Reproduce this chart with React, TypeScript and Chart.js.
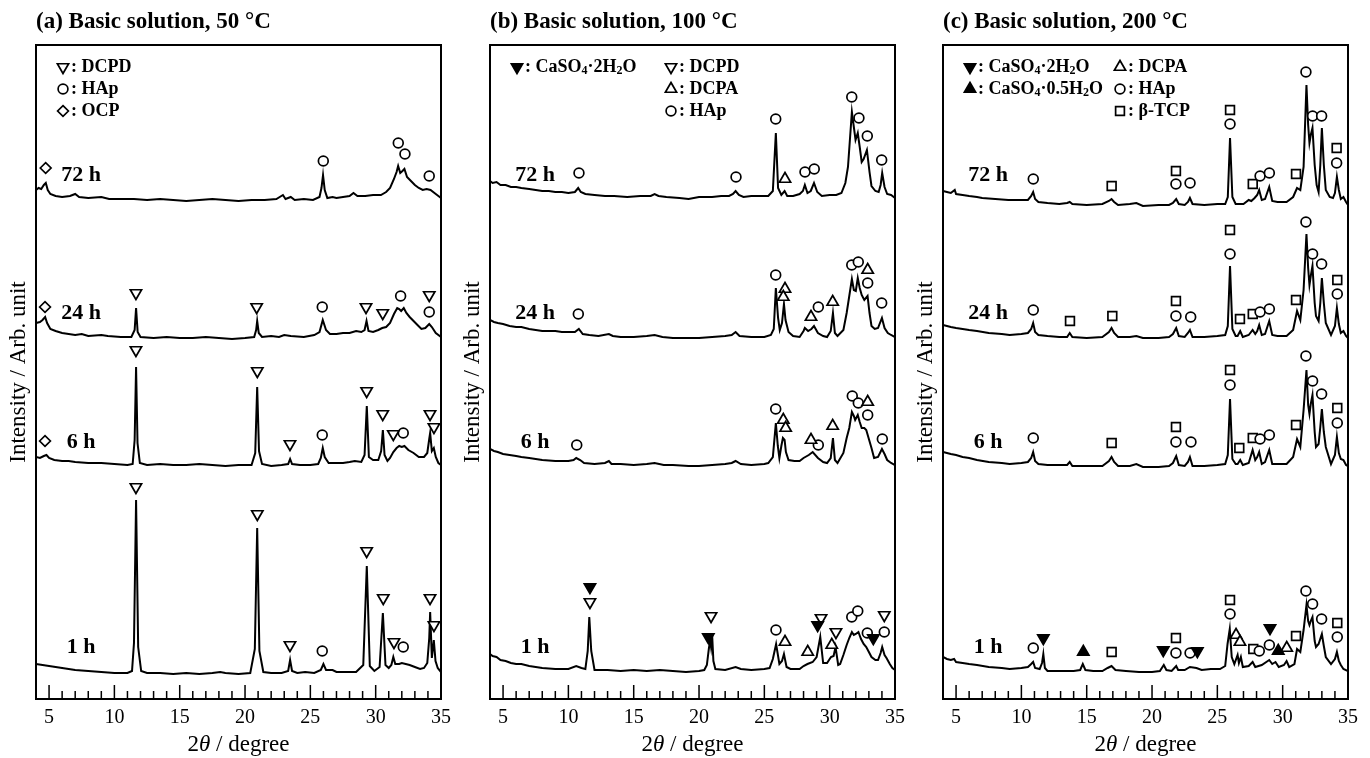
import React, { useEffect, useRef } from 'react';
import { Chart, registerables } from 'chart.js';
Chart.register(...registerables);

type P = [number, number];
type Part = [string, number];

const SERIF = "'Liberation Serif', 'Times New Roman', serif";

// ---------- shared axis data ----------
const xMin = 4;
const xMax = 35;
const yMax = 654;
const majorTicks = [5, 10, 15, 20, 25, 30, 35];
const minorTicks = [6, 7, 8, 9, 11, 12, 13, 14, 16, 17, 18, 19, 21, 22, 23, 24, 26, 27, 28, 29, 31, 32, 33, 34];
const timeLabels = ['72 h', '24 h', '6 h', '1 h'];
const timeLabelTheta = 7.45;

// ---------- panel (a) 50 °C ----------
const a72: P[] = [[4.0,10],[4.2,12],[4.4,11],[4.6,15],[4.75,17],[4.9,10],[5.1,6],[5.5,4],[6.0,3],[6.6,4],[7.0,6],[7.3,3],[8.0,2],[9.0,3],[9.6,1],[10.5,1],[11.5,1],[12.5,0],[13.5,1],[14.5,0],[15.5,-1],[16.5,0],[17.5,1],[18.5,0],[19.5,-1],[20.5,0],[21.5,0],[22.4,1],[22.9,5],[23.1,1],[23.5,3],[23.8,0],[24.5,1],[25.2,0],[25.7,3],[25.85,12],[25.97,25],[26.1,10],[26.3,2],[26.7,3],[27.0,2],[27.5,3],[28.0,4],[28.3,7],[28.6,4],[29.2,4],[29.8,5],[30.4,5],[30.8,8],[31.1,12],[31.4,21],[31.6,28],[31.72,34],[31.88,27],[32.05,29],[32.2,31],[32.4,23],[32.7,19],[33.0,15],[33.3,12],[33.6,10],[33.9,11],[34.2,10],[34.5,7],[34.8,4],[35.0,2]];
const a24: P[] = [[4.0,15],[4.3,16],[4.5,18],[4.7,21],[4.85,15],[5.1,9],[5.5,7],[6.0,5],[7.0,3],[7.5,4],[8.0,2],[9.0,3],[9.5,2],[10.5,1],[11.3,1],[11.55,8],[11.66,30],[11.78,6],[12.0,1],[13.0,0],[14.0,1],[15.0,0],[16.0,0],[17.0,1],[18.0,0],[19.0,-1],[20.0,0],[20.7,1],[20.85,8],[20.93,17],[21.05,5],[21.3,1],[22.0,2],[22.6,1],[23.0,3],[23.5,2],[24.5,1],[25.3,3],[25.7,6],[25.95,18],[26.2,8],[26.5,4],[27.0,4],[27.5,5],[28.0,5],[28.5,7],[28.9,6],[29.15,8],[29.3,17],[29.45,7],[29.8,6],[30.2,8],[30.5,10],[30.8,11],[31.1,15],[31.4,24],[31.65,30],[31.8,29],[31.95,27],[32.15,30],[32.35,25],[32.6,21],[32.9,17],[33.2,13],[33.5,9],[33.8,10],[34.1,14],[34.3,11],[34.6,5],[35.0,1]];
const a6: P[] = [[4.0,8],[4.3,7],[4.6,9],[4.8,10],[5.0,7],[5.4,5],[6.0,4],[6.5,4],[7.0,3],[8.0,2],[9.0,2],[10.0,1],[11.0,0],[11.4,1],[11.55,25],[11.66,98],[11.77,22],[11.95,2],[12.5,0],[13.5,1],[14.5,0],[15.5,0],[16.5,1],[17.5,0],[18.5,-1],[19.5,0],[20.5,0],[20.78,12],[20.93,78],[21.07,14],[21.3,1],[22.0,-1],[22.8,0],[23.3,1],[23.45,6],[23.6,1],[24.2,0],[25.0,0],[25.6,1],[25.8,7],[25.95,17],[26.1,8],[26.4,2],[27.0,2],[27.5,2],[28.0,3],[28.4,4],[28.9,3],[29.15,10],[29.32,59],[29.48,8],[29.8,5],[30.2,5],[30.42,14],[30.55,35],[30.68,10],[30.9,4],[31.1,7],[31.35,13],[31.6,17],[31.8,19],[32.0,18],[32.2,19],[32.5,15],[32.9,12],[33.3,8],[33.7,8],[33.95,12],[34.1,26],[34.17,32],[34.3,14],[34.45,17],[34.6,8],[34.8,2],[35.0,0]];
const a1: P[] = [[4.0,9],[4.5,8],[5.0,7],[5.5,6],[6.0,5],[7.0,3],[8.0,2],[9.0,1],[10.0,0],[11.0,0],[11.35,2],[11.5,30],[11.66,173],[11.82,26],[12.05,2],[12.5,0],[13.5,0],[14.5,-1],[15.5,0],[16.5,-1],[17.5,0],[18.1,1],[18.5,0],[19.5,-1],[20.4,0],[20.75,24],[20.93,145],[21.1,22],[21.4,1],[22.0,0],[22.8,0],[23.3,2],[23.45,13],[23.6,2],[24.0,0],[24.6,1],[25.3,0],[25.8,3],[26.0,9],[26.2,3],[26.7,3],[27.0,1],[27.8,1],[28.5,1],[29.05,8],[29.32,107],[29.55,7],[29.9,2],[30.3,6],[30.55,60],[30.75,8],[31.0,5],[31.2,8],[31.35,16],[31.5,9],[31.8,9],[32.0,10],[32.3,9],[32.6,8],[33.0,6],[33.4,4],[33.7,5],[33.95,10],[34.1,35],[34.17,61],[34.3,15],[34.45,33],[34.58,12],[34.75,5],[35.0,1]];
const aOffsets = [499, 361, 234, 26];
const aLabelY = [524, 386, 257, 52];
const aDCPD: P[] = [[11.65,406],[20.89,392],[29.26,392],[30.54,386],[34.1,404],[11.65,349],[20.94,328],[23.44,255],[29.31,308],[30.54,285],[31.35,265],[34.16,285],[34.46,272],[11.65,212],[20.94,185],[23.44,54],[29.31,148],[30.58,101],[31.4,57],[34.16,101],[34.46,74]];
const aHAp: P[] = [[25.99,538],[31.73,556],[32.24,545],[34.1,523],[25.91,392],[31.91,403],[34.1,387],[25.91,264],[32.11,266],[25.91,48],[32.11,52]];
const aOCP: P[] = [[4.74,531],[4.69,392],[4.69,258]];

// ---------- panel (b) 100 °C ----------
const b72: P[] = [[4.0,16],[4.2,14],[4.5,15],[4.8,12],[5.2,12],[5.6,10],[6.0,10],[6.4,9],[7.0,8],[7.5,7],[8.0,6],[8.5,6],[9.0,5],[9.5,5],[10.0,4],[10.5,5],[10.75,9],[10.95,5],[11.3,3],[12.0,2],[12.8,1],[13.5,1],[14.5,0],[15.5,1],[16.3,1],[16.6,3],[16.9,1],[17.5,0],[18.5,-1],[19.2,-2],[20.0,0],[21.0,0],[21.7,1],[22.3,1],[22.6,3],[22.8,6],[23.05,2],[23.4,0],[24.0,1],[24.8,1],[25.3,1],[25.65,6],[25.88,64],[26.05,9],[26.3,2],[26.55,6],[26.75,1],[27.2,1],[27.7,3],[27.95,6],[28.1,12],[28.3,4],[28.55,6],[28.8,14],[29.05,5],[29.4,1],[30.0,2],[30.5,2],[30.9,4],[31.2,14],[31.4,30],[31.7,85],[31.85,70],[31.98,57],[32.15,64],[32.3,50],[32.45,35],[32.6,38],[32.85,47],[33.05,25],[33.2,11],[33.5,6],[33.75,5],[33.9,12],[34.02,24],[34.2,10],[34.4,3],[34.7,2],[35.0,-1]];
const b24: P[] = [[4.0,18],[4.3,16],[4.6,15],[5.0,14],[5.5,12],[6.0,11],[6.4,11],[7.0,9],[7.5,8],[8.0,7],[9.0,7],[9.5,6],[10.0,6],[10.5,6],[10.8,9],[11.1,4],[11.6,3],[12.3,2],[13.1,4],[13.4,2],[14.0,1],[15.0,1],[16.0,2],[16.6,3],[17.2,1],[18.0,0],[19.2,0],[20.0,0],[21.0,1],[22.0,2],[22.5,3],[22.8,6],[23.1,2],[24.0,1],[25.0,1],[25.5,3],[25.72,9],[25.88,50],[26.05,20],[26.18,8],[26.35,15],[26.5,34],[26.62,18],[26.85,6],[27.2,2],[27.7,1],[28.0,7],[28.1,10],[28.35,7],[28.6,9],[28.8,12],[29.1,5],[29.5,2],[29.8,1],[30.08,7],[30.25,25],[30.4,5],[30.6,2],[31.05,8],[31.3,25],[31.5,42],[31.7,59],[31.85,48],[32.0,47],[32.15,60],[32.3,50],[32.45,43],[32.65,38],[32.9,42],[33.05,25],[33.2,12],[33.45,9],[33.7,10],[34.0,20],[34.2,10],[34.45,5],[34.7,3],[35.0,1]];
const b6: P[] = [[4.0,17],[4.3,15],[4.6,14],[5.0,12],[5.5,11],[6.0,10],[6.4,9],[7.0,8],[7.5,7],[8.0,6],[9.0,5],[9.5,5],[10.0,5],[10.4,6],[10.6,8],[10.9,6],[11.2,3],[12.0,2],[12.8,3],[13.1,5],[13.3,2],[14.0,2],[15.0,1],[16.0,2],[16.6,3],[17.3,1],[18.0,1],[19.2,0],[20.0,0],[21.0,1],[22.0,2],[22.5,3],[22.8,5],[23.2,2],[24.0,1],[25.0,2],[25.3,3],[25.65,9],[25.88,43],[26.03,20],[26.15,8],[26.3,20],[26.42,28],[26.55,26],[26.65,14],[26.85,6],[27.3,5],[27.7,5],[28.0,8],[28.4,11],[28.7,14],[29.1,8],[29.5,4],[29.8,3],[30.08,8],[30.25,28],[30.4,6],[30.6,3],[31.05,13],[31.3,28],[31.5,38],[31.7,54],[31.85,50],[31.95,46],[32.15,51],[32.3,44],[32.45,38],[32.65,38],[32.8,36],[33.0,27],[33.2,18],[33.4,8],[33.7,9],[34.0,17],[34.2,12],[34.4,6],[34.7,3],[35.0,1]];
const b1: P[] = [[4.0,17],[4.2,15],[4.5,14],[4.8,11],[5.2,10],[5.4,9],[5.6,8],[6.0,7],[6.4,7],[7.0,5],[7.5,4],[8.0,3],[9.0,2],[10.0,2],[10.6,5],[11.0,3],[11.3,2],[11.48,20],[11.6,54],[11.75,20],[12.0,1],[13.0,1],[14.0,0],[15.0,1],[16.0,0],[17.0,1],[18.0,0],[19.0,-1],[20.0,0],[20.4,1],[20.6,6],[20.75,22],[20.85,31],[20.92,24],[21.0,37],[21.1,10],[21.25,2],[22.0,1],[22.8,4],[23.2,2],[24.0,1],[25.0,2],[25.4,3],[25.65,12],[25.9,27],[26.15,7],[26.35,10],[26.5,17],[26.7,4],[27.0,2],[27.7,2],[28.0,5],[28.3,7],[28.7,9],[29.0,14],[29.28,34],[29.5,8],[29.8,8],[30.1,14],[30.3,15],[30.45,24],[30.65,6],[30.8,7],[31.05,16],[31.3,26],[31.5,33],[31.7,39],[31.85,36],[32.0,37],[32.2,39],[32.4,32],[32.6,27],[32.8,24],[33.0,19],[33.2,14],[33.5,11],[33.7,11],[33.9,18],[34.02,24],[34.2,16],[34.35,13],[34.6,7],[34.8,3],[35.0,1]];
const bOffsets = [502, 361, 233, 28];
const bLabelY = [524, 386, 257, 52];
const bGyp: P[] = [[11.65,112],[20.71,62],[29.08,74],[33.34,61]];
const bDCPD: P[] = [[11.65,97],[20.92,83],[29.34,81],[30.48,67],[34.18,84]];
const bDCPA: P[] = [[26.58,520],[26.58,410],[26.45,402],[28.57,382],[30.23,397],[32.91,429],[26.45,279],[26.63,271],[28.57,259],[30.23,273],[32.91,297],[26.58,57],[28.32,47],[30.16,54]];
const bHAp: P[] = [[10.81,526],[22.83,522],[25.87,580],[28.11,527],[28.82,530],[31.69,602],[32.24,581],[32.88,563],[33.98,539],[10.76,385],[25.87,424],[29.13,392],[31.69,434],[32.19,437],[32.91,416],[33.98,396],[10.64,254],[25.87,290],[29.13,254],[31.73,303],[32.19,296],[32.91,284],[34.03,260],[25.89,69],[31.69,82],[32.15,88],[32.88,66],[34.18,67]];

// ---------- panel (c) 200 °C ----------
const c72: P[] = [[4.0,14],[4.3,13],[4.6,12],[4.9,15],[5.0,11],[5.5,10],[6.0,9],[6.6,8],[7.0,7],[8.0,6],[9.0,5],[10.0,5],[10.5,5],[10.75,9],[10.9,13],[11.05,6],[11.3,3],[12.0,2],[12.9,1],[13.5,2],[13.7,3],[13.9,1],[15.0,0],[16.2,1],[16.7,4],[16.9,6],[17.1,3],[17.4,0],[18.3,1],[18.8,2],[19.3,-1],[20.5,0],[21.3,0],[21.6,2],[21.85,6],[22.05,1],[22.5,0],[22.75,3],[22.9,7],[23.1,1],[24.0,0],[25.0,1],[25.6,1],[25.8,8],[25.97,67],[26.15,8],[26.4,1],[27.0,1],[27.4,5],[27.6,4],[27.85,7],[28.05,10],[28.2,15],[28.4,5],[28.65,6],[28.97,18],[29.2,4],[29.6,3],[30.3,3],[30.8,8],[31.1,17],[31.35,15],[31.6,38],[31.82,120],[31.95,80],[32.05,62],[32.15,70],[32.28,77],[32.45,40],[32.6,20],[32.75,13],[32.88,40],[33.0,77],[33.15,40],[33.3,15],[33.6,8],[33.85,7],[34.0,12],[34.15,28],[34.3,15],[34.45,6],[34.65,8],[34.85,3],[35.0,0]];
const c24: P[] = [[4.0,13],[4.3,12],[4.6,11],[5.0,10],[5.5,9],[6.0,8],[6.6,7],[7.5,5],[8.5,4],[9.1,3],[10.0,4],[10.5,5],[10.75,9],[10.9,15],[11.05,6],[11.3,3],[12.0,2],[12.9,1],[13.5,1],[13.7,5],[13.9,1],[15.0,0],[16.2,1],[16.7,6],[16.9,10],[17.1,5],[17.4,1],[18.3,1],[18.8,2],[19.3,0],[20.5,0],[21.3,1],[21.6,4],[21.85,10],[22.05,2],[22.5,1],[22.75,5],[22.9,8],[23.1,1],[24.0,1],[25.0,2],[25.6,3],[25.8,12],[25.97,72],[26.15,9],[26.4,2],[26.55,2],[26.75,7],[26.95,1],[27.4,3],[27.7,8],[27.9,4],[28.05,7],[28.2,13],[28.4,3],[28.65,4],[28.97,17],[29.2,3],[29.6,2],[30.3,2],[30.8,8],[31.1,27],[31.35,18],[31.6,48],[31.82,104],[31.95,70],[32.05,53],[32.15,62],[32.28,72],[32.45,35],[32.55,22],[32.75,17],[32.88,35],[33.0,60],[33.15,35],[33.3,15],[33.7,3],[34.0,12],[34.15,30],[34.3,14],[34.45,5],[34.65,7],[34.85,2],[35.0,0]];
const c6: P[] = [[4.0,15],[4.3,14],[4.6,13],[5.0,12],[5.5,10],[6.0,9],[6.6,7],[7.5,5],[8.5,4],[9.1,3],[10.0,4],[10.5,5],[10.75,9],[10.9,15],[11.05,6],[11.3,3],[12.0,2],[12.9,2],[13.5,2],[13.7,5],[13.9,1],[15.0,1],[16.2,1],[16.7,6],[16.9,10],[17.1,5],[17.4,1],[18.3,1],[18.8,3],[19.3,0],[20.5,0],[21.3,1],[21.6,4],[21.85,11],[22.05,2],[22.5,1],[22.75,5],[22.9,10],[23.1,1],[24.0,1],[25.0,2],[25.6,3],[25.8,12],[25.97,68],[26.15,8],[26.4,3],[26.55,3],[26.75,7],[26.95,2],[27.4,4],[27.7,17],[27.9,7],[28.05,10],[28.2,15],[28.4,3],[28.65,5],[28.97,17],[29.2,3],[29.6,3],[30.3,3],[30.8,10],[31.1,28],[31.35,20],[31.6,57],[31.82,97],[31.95,62],[32.05,53],[32.15,63],[32.28,72],[32.45,35],[32.55,20],[32.75,23],[32.88,40],[33.0,58],[33.15,35],[33.3,20],[33.7,3],[34.0,12],[34.15,30],[34.3,14],[34.45,8],[34.65,7],[34.85,2],[35.0,1]];
const c1: P[] = [[4.0,14],[4.3,12],[4.6,11],[4.85,12],[5.0,9],[5.5,8],[6.0,7],[6.6,6],[7.5,4],[8.5,3],[9.1,2],[10.0,3],[10.5,4],[10.75,7],[10.9,9],[11.05,3],[11.4,2],[11.58,8],[11.68,17],[11.8,3],[12.0,0],[13.0,0],[14.0,0],[14.5,1],[14.7,7],[14.9,1],[15.5,0],[16.2,0],[16.6,3],[16.9,5],[17.2,1],[18.0,0],[19.0,-1],[20.0,-1],[20.6,0],[20.9,6],[21.1,1],[21.5,0],[21.85,5],[22.0,1],[22.5,1],[22.9,4],[23.4,3],[23.8,1],[24.5,2],[25.2,2],[25.6,5],[25.78,27],[25.95,42],[26.1,14],[26.3,7],[26.55,16],[26.65,8],[26.8,14],[26.95,4],[27.4,5],[27.7,9],[27.9,4],[28.4,6],[28.97,11],[29.2,7],[29.45,9],[29.7,4],[30.1,6],[30.3,10],[30.5,4],[30.9,7],[31.1,22],[31.35,19],[31.6,41],[31.82,66],[31.95,50],[32.05,46],[32.15,50],[32.28,54],[32.45,30],[32.55,24],[32.75,27],[33.0,37],[33.15,25],[33.3,14],[33.7,7],[34.0,12],[34.15,19],[34.3,10],[34.45,6],[34.65,2],[35.0,0]];
const cOffsets = [494, 361, 232, 28];
const cLabelY = [524, 386, 257, 52];
const cGyp: P[] = [[11.68,61],[20.86,49],[23.47,48],[29.03,71]];
const cHemi: P[] = [[14.74,47],[29.66,48]];
const cDCPA: P[] = [[26.43,64],[26.73,57],[30.31,51]];
const cHAp: P[] = [[10.91,520],[21.83,515],[22.91,516],[25.97,575],[28.27,523],[28.98,526],[31.78,627],[32.29,583],[32.98,583],[34.13,536],[10.91,389],[21.83,383],[22.96,382],[25.97,445],[28.27,387],[28.98,390],[31.78,477],[32.29,445],[32.98,435],[34.18,405],[10.91,261],[21.83,257],[22.98,257],[25.97,314],[28.27,260],[28.98,264],[31.78,343],[32.29,318],[32.98,305],[34.18,276],[10.91,51],[21.83,46],[22.91,46],[25.97,85],[28.21,48],[28.98,54],[31.78,108],[32.29,95],[32.98,80],[34.18,62]];
const cTCP: P[] = [[16.91,513],[21.83,528],[25.97,589],[27.71,515],[31.02,525],[34.13,551],[13.72,378],[16.96,383],[21.83,398],[25.97,469],[26.73,380],[27.71,385],[31.02,399],[34.18,419],[16.91,256],[21.83,272],[25.97,329],[26.68,251],[27.71,261],[31.02,274],[34.18,291],[16.91,47],[21.83,61],[25.97,99],[27.75,50],[31.02,63],[34.18,76]];

// ---------- marker styles ----------
const KIND: Record<string, { pointStyle: string; rotation: number; fill: string; radius: number }> = {
  dcpd: { pointStyle: 'triangle', rotation: 180, fill: '#fff', radius: 6.5 },
  gyp: { pointStyle: 'triangle', rotation: 180, fill: '#000', radius: 6.5 },
  hemi: { pointStyle: 'triangle', rotation: 0, fill: '#000', radius: 6.5 },
  dcpa: { pointStyle: 'triangle', rotation: 0, fill: '#fff', radius: 6.5 },
  hap: { pointStyle: 'circle', rotation: 0, fill: '#fff', radius: 4.9 },
  ocp: { pointStyle: 'rectRot', rotation: 0, fill: '#fff', radius: 5.4 },
  tcp: { pointStyle: 'rect', rotation: 0, fill: '#fff', radius: 6.2 },
};

type LegendItem = { kind: string; col: number; row: number; parts: Part[] };
type Panel = {
  title: string;
  left: number;
  patterns: P[][];
  offsets: number[];
  labelY: number[];
  markers: { kind: string; pts: P[] }[];
  legendCols: number[];
  legend: LegendItem[];
};

const panels: Panel[] = [
  {
    title: '(a) Basic solution, 50 °C',
    left: 0,
    patterns: [a72, a24, a6, a1],
    offsets: aOffsets,
    labelY: aLabelY,
    markers: [{ kind: 'dcpd', pts: aDCPD }, { kind: 'hap', pts: aHAp }, { kind: 'ocp', pts: aOCP }],
    legendCols: [27],
    legend: [
      { kind: 'dcpd', col: 0, row: 0, parts: [[': DCPD', 0]] },
      { kind: 'hap', col: 0, row: 1, parts: [[': HAp', 0]] },
      { kind: 'ocp', col: 0, row: 2, parts: [[': OCP', 0]] },
    ],
  },
  {
    title: '(b) Basic solution, 100 °C',
    left: 454,
    patterns: [b72, b24, b6, b1],
    offsets: bOffsets,
    labelY: bLabelY,
    markers: [{ kind: 'gyp', pts: bGyp }, { kind: 'dcpd', pts: bDCPD }, { kind: 'dcpa', pts: bDCPA }, { kind: 'hap', pts: bHAp }],
    legendCols: [27, 181],
    legend: [
      { kind: 'gyp', col: 0, row: 0, parts: [[': CaSO', 0], ['4', 1], ['·2H', 0], ['2', 1], ['O', 0]] },
      { kind: 'dcpd', col: 1, row: 0, parts: [[': DCPD', 0]] },
      { kind: 'dcpa', col: 1, row: 1, parts: [[': DCPA', 0]] },
      { kind: 'hap', col: 1, row: 2, parts: [[': HAp', 0]] },
    ],
  },
  {
    title: '(c) Basic solution, 200 °C',
    left: 907,
    patterns: [c72, c24, c6, c1],
    offsets: cOffsets,
    labelY: cLabelY,
    markers: [{ kind: 'gyp', pts: cGyp }, { kind: 'hemi', pts: cHemi }, { kind: 'dcpa', pts: cDCPA }, { kind: 'hap', pts: cHAp }, { kind: 'tcp', pts: cTCP }],
    legendCols: [27, 177],
    legend: [
      { kind: 'gyp', col: 0, row: 0, parts: [[': CaSO', 0], ['4', 1], ['·2H', 0], ['2', 1], ['O', 0]] },
      { kind: 'hemi', col: 0, row: 1, parts: [[': CaSO', 0], ['4', 1], ['·0.5H', 0], ['2', 1], ['O', 0]] },
      { kind: 'dcpa', col: 1, row: 0, parts: [[': DCPA', 0]] },
      { kind: 'hap', col: 1, row: 1, parts: [[': HAp', 0]] },
      { kind: 'tcp', col: 1, row: 2, parts: [[': β-TCP', 0]] },
    ],
  },
];

function drawSym(ctx: CanvasRenderingContext2D, kind: string, x: number, y: number) {
  const k = KIND[kind];
  const r = k.radius;
  ctx.save();
  ctx.lineWidth = 1.7;
  ctx.strokeStyle = '#000';
  ctx.fillStyle = k.fill;
  ctx.beginPath();
  if (k.pointStyle === 'circle') {
    ctx.arc(x, y, r, 0, Math.PI * 2);
  } else if (k.pointStyle === 'triangle') {
    let a = (k.rotation * Math.PI) / 180;
    for (let i = 0; i < 3; i++) {
      const px = x + Math.sin(a) * r;
      const py = y - Math.cos(a) * r;
      if (i === 0) ctx.moveTo(px, py);
      else ctx.lineTo(px, py);
      a += (2 * Math.PI) / 3;
    }
    ctx.closePath();
  } else if (k.pointStyle === 'rect') {
    const s = r * Math.SQRT1_2;
    ctx.rect(x - s, y - s, 2 * s, 2 * s);
  } else {
    ctx.moveTo(x, y - r);
    ctx.lineTo(x + r, y);
    ctx.lineTo(x, y + r);
    ctx.lineTo(x - r, y);
    ctx.closePath();
  }
  ctx.fill();
  ctx.stroke();
  ctx.restore();
}

function drawRich(ctx: CanvasRenderingContext2D, parts: Part[], x: number, y: number) {
  let cx = x;
  for (const [t, sub] of parts) {
    ctx.font = sub ? `bold 12px ${SERIF}` : `bold 18px ${SERIF}`;
    ctx.fillText(t, cx, sub ? y + 4 : y);
    cx += ctx.measureText(t).width;
  }
}

function makeDecor(panel: Panel) {
  return {
    id: 'decor',
    afterDraw(chart: any) {
      const { ctx, chartArea: ca } = chart;
      const xs = chart.scales.x;
      const ys = chart.scales.y;
      ctx.save();
      // frame
      ctx.strokeStyle = '#000';
      ctx.lineWidth = 2;
      ctx.strokeRect(ca.left, ca.top, ca.right - ca.left, ca.bottom - ca.top);
      // inward ticks
      ctx.lineWidth = 1.5;
      ctx.beginPath();
      majorTicks.forEach((v) => {
        const px = xs.getPixelForValue(v);
        ctx.moveTo(px, ca.bottom);
        ctx.lineTo(px, ca.bottom - 14);
      });
      minorTicks.forEach((v) => {
        const px = xs.getPixelForValue(v);
        ctx.moveTo(px, ca.bottom);
        ctx.lineTo(px, ca.bottom - 8);
      });
      ctx.stroke();
      ctx.fillStyle = '#000';
      // panel title
      ctx.font = `bold 23px ${SERIF}`;
      ctx.textAlign = 'left';
      ctx.textBaseline = 'alphabetic';
      ctx.fillText(panel.title, ca.left, 28);
      // x title: 2θ / degree
      const parts: [string, string][] = [['2', `23px ${SERIF}`], ['θ', `italic 23px ${SERIF}`], [' / degree', `23px ${SERIF}`]];
      let w = 0;
      parts.forEach(([t, f]) => { ctx.font = f; w += ctx.measureText(t).width; });
      let cx = (ca.left + ca.right) / 2 - w / 2;
      parts.forEach(([t, f]) => { ctx.font = f; ctx.fillText(t, cx, 751); cx += ctx.measureText(t).width; });
      // time labels
      ctx.font = `bold 22px ${SERIF}`;
      ctx.textAlign = 'center';
      ctx.textBaseline = 'middle';
      timeLabels.forEach((t, i) => {
        ctx.fillText(t, xs.getPixelForValue(timeLabelTheta), ys.getPixelForValue(panel.labelY[i]));
      });
      // legend
      ctx.textAlign = 'left';
      panel.legend.forEach((it) => {
        const sx = ca.left + panel.legendCols[it.col];
        const sy = ca.top + 22 + it.row * 22;
        drawSym(ctx, it.kind, sx, sy);
        ctx.fillStyle = '#000';
        drawRich(ctx, it.parts, sx + 8, sy);
      });
      ctx.restore();
    },
  };
}

function PanelChart({ panel }: { panel: Panel }) {
  const ref = useRef<HTMLCanvasElement | null>(null);
  useEffect(() => {
    if (!ref.current) return;
    const datasets: any[] = [];
    panel.markers.forEach((m) => {
      const k = KIND[m.kind];
      datasets.push({
        data: m.pts.map(([x, y]) => ({ x, y })),
        showLine: false,
        pointStyle: k.pointStyle,
        pointRotation: k.rotation,
        pointRadius: k.radius,
        pointBorderWidth: 1.7,
        pointBackgroundColor: k.fill,
        pointBorderColor: '#000',
      });
    });
    panel.patterns.forEach((pts, i) => {
      datasets.push({
        data: pts.map(([x, v]) => ({ x, y: panel.offsets[i] + v })),
        showLine: true,
        borderColor: '#000',
        borderWidth: 2,
        pointRadius: 0,
        tension: 0,
        fill: false,
      });
    });
    const chart = new Chart(ref.current, {
      type: 'scatter',
      data: { datasets },
      options: {
        animation: false,
        responsive: false,
        events: [],
        layout: { padding: { top: 45, left: 0, right: 13, bottom: 0 } },
        plugins: { legend: { display: false }, tooltip: { enabled: false }, title: { display: false } },
        scales: {
          x: {
            type: 'linear',
            min: xMin,
            max: xMax,
            grid: { display: false, drawTicks: false },
            border: { display: false },
            ticks: { color: '#000', font: { family: SERIF, size: 20 }, padding: 7, maxRotation: 0 },
            afterBuildTicks: (s: any) => { s.ticks = majorTicks.map((v) => ({ value: v })); },
            afterFit: (s: any) => { s.height = 59; s.paddingLeft = 0; s.paddingRight = 0; },
          },
          y: {
            type: 'linear',
            min: 0,
            max: yMax,
            grid: { display: false, drawTicks: false },
            border: { display: false },
            ticks: { display: false },
            title: { display: true, text: 'Intensity / Arb. unit', color: '#000', font: { family: SERIF, size: 23 }, padding: { top: 5, bottom: 0 } },
            afterFit: (s: any) => { s.width = 36; s.paddingTop = 0; s.paddingBottom = 0; },
          },
        },
      } as any,
      plugins: [makeDecor(panel)],
    });
    return () => chart.destroy();
  }, [panel]);
  return (
    <canvas
      ref={ref}
      width={454}
      height={758}
      style={{ position: 'absolute', left: panel.left, top: 0, width: 454, height: 758, display: 'block' }}
    />
  );
}

export default function App() {
  return (
    <div style={{ position: 'fixed', left: 0, top: 0, width: 1370, height: 758, background: '#fff', overflow: 'hidden' }}>
      {panels.map((p, i) => (
        <PanelChart key={i} panel={p} />
      ))}
    </div>
  );
}
